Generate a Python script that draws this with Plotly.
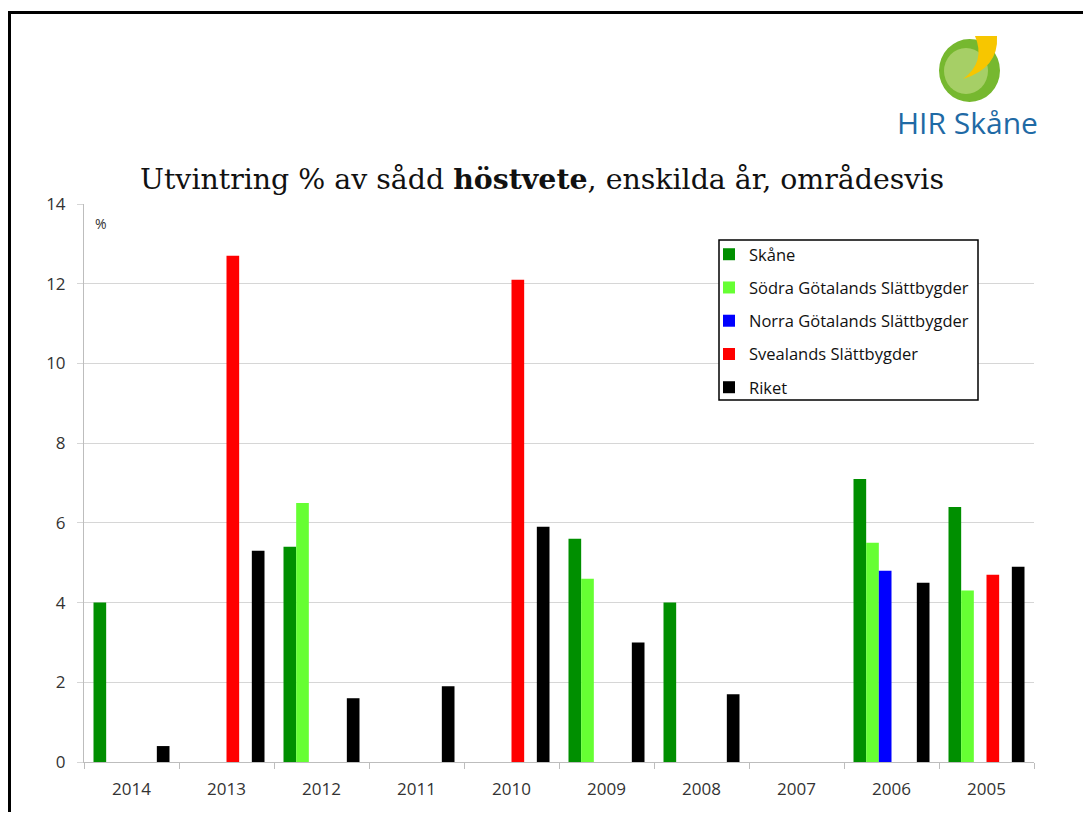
import plotly.graph_objects as go

years = ["2014", "2013", "2012", "2011", "2010", "2009", "2008", "2007", "2006", "2005"]
skane = [4.0, None, 5.4, None, None, 5.6, 4.0, None, 7.1, 6.4]
sodra = [None, None, 6.5, None, None, 4.6, None, None, 5.5, 4.3]
norra = [None, None, None, None, None, None, None, None, 4.8, None]
svealand = [None, 12.7, None, None, 12.1, None, None, None, None, 4.7]
empty_series = [None] * 10
riket = [0.4, 5.3, 1.6, 1.9, 5.9, 3.0, 1.7, None, 4.5, 4.9]
y_ticks = [0, 2, 4, 6, 8, 10, 12, 14]

series = [
    ("Skåne", skane, "#008f00", True),
    ("Södra Götalands Slättbygder", sodra, "#66ff33", True),
    ("Norra Götalands Slättbygder", norra, "#0000ff", True),
    ("Svealands Slättbygder", svealand, "#ff0000", True),
    ("(tom)", empty_series, "#888888", False),
    ("Riket", riket, "#000000", True),
]

fig = go.Figure()
for i, (name, vals, col, show) in enumerate(series):
    fig.add_trace(go.Bar(x=years, y=vals, name=name, marker_color=col,
                         marker_line_width=0, showlegend=show,
                         legendgroup=f"g{i}"))

OFF = 8  # page body margin
W, H = 1075, 804
L, T = 84 - OFF, 204 - OFF
R = W - (1034 - OFF)
B = H - (762 - OFF)
pw, ph = W - L - R, H - T - B


def sx(x):
    return (x - OFF - L) / pw


def sy(y):
    return (H - B - (y - OFF)) / ph


crescent = "M {},{} L {},{} Q {},{} {},{} Q {},{} {},{} Z".format(
    sx(975), sy(36), sx(997), sy(36), sx(999), sy(68), sx(963), sy(79),
    sx(986), sy(62), sx(975), sy(36))

shapes = [
    # slide frame
    dict(type="rect", xref="paper", yref="paper", x0=sx(9.5), x1=sx(1200), y0=sy(12.5), y1=sy(900),
         line=dict(color="#000000", width=3), layer="below"),
    # logo
    dict(type="circle", xref="paper", yref="paper", x0=sx(939), x1=sx(1000), y0=sy(39), y1=sy(102),
         fillcolor="#76b82f", line=dict(width=0)),
    dict(type="circle", xref="paper", yref="paper", x0=sx(944), x1=sx(988), y0=sy(48), y1=sy(94),
         fillcolor="#a6cf66", line=dict(width=0)),
    dict(type="path", xref="paper", yref="paper", path=crescent,
         fillcolor="#f7c600", line=dict(width=0)),
    # legend box
    dict(type="rect", xref="paper", yref="paper", x0=sx(719), x1=sx(978), y0=sy(240), y1=sy(400),
         fillcolor="white", line=dict(color="#000000", width=1.5)),
]

fig.update_layout(
    width=W, height=H,
    margin=dict(l=L, r=R, t=T, b=B),
    paper_bgcolor="white", plot_bgcolor="white",
    barmode="group", bargap=0.2, bargroupgap=0,
    title=dict(text="Utvintring % av sådd <b>höstvete</b>, enskilda år, områdesvis",
               xref="container", yref="container",
               x=(542 - OFF) / W, xanchor="center", y=1 - (179 - OFF) / H, yanchor="middle",
               font=dict(family="DejaVu Serif", size=28.4, color="#111111")),
    font=dict(family="Open Sans", size=14, color="#333333"),
    xaxis=dict(type="category", showgrid=False, showline=True, linecolor="#bdbdbd",
               ticks="outside", tickson="boundaries", ticklen=6, tickcolor="#bdbdbd",
               tickfont=dict(size=17, color="#333333"), ticklabelstandoff=12,
               zeroline=False),
    yaxis=dict(range=[0, 14], tickvals=y_ticks, showgrid=True, gridcolor="#d6d6d6",
               showline=True, linecolor="#bdbdbd", ticks="outside", ticklen=6,
               tickcolor="#d6d6d6", zeroline=False, ticklabelstandoff=8,
               tickfont=dict(size=17, color="#333333")),
    legend=dict(x=sx(709), y=sy(237), xanchor="left", yanchor="top",
                bgcolor="rgba(0,0,0,0)", borderwidth=0,
                font=dict(size=16.5, color="#111111"), tracegroupgap=8.8,
                itemwidth=30),
    shapes=shapes,
    annotations=[
        dict(text="%", xref="paper", yref="paper", x=sx(101), y=sy(223), showarrow=False,
             xanchor="center", yanchor="middle",
             font=dict(size=14, color="#333333")),
        dict(text="HIR Skåne", xref="paper", yref="paper", x=sx(967), y=sy(122), showarrow=False,
             xanchor="center", yanchor="middle",
             font=dict(family="Open Sans", size=30, color="#1f6aa5")),
    ],
)

fig.write_html("out.html")
